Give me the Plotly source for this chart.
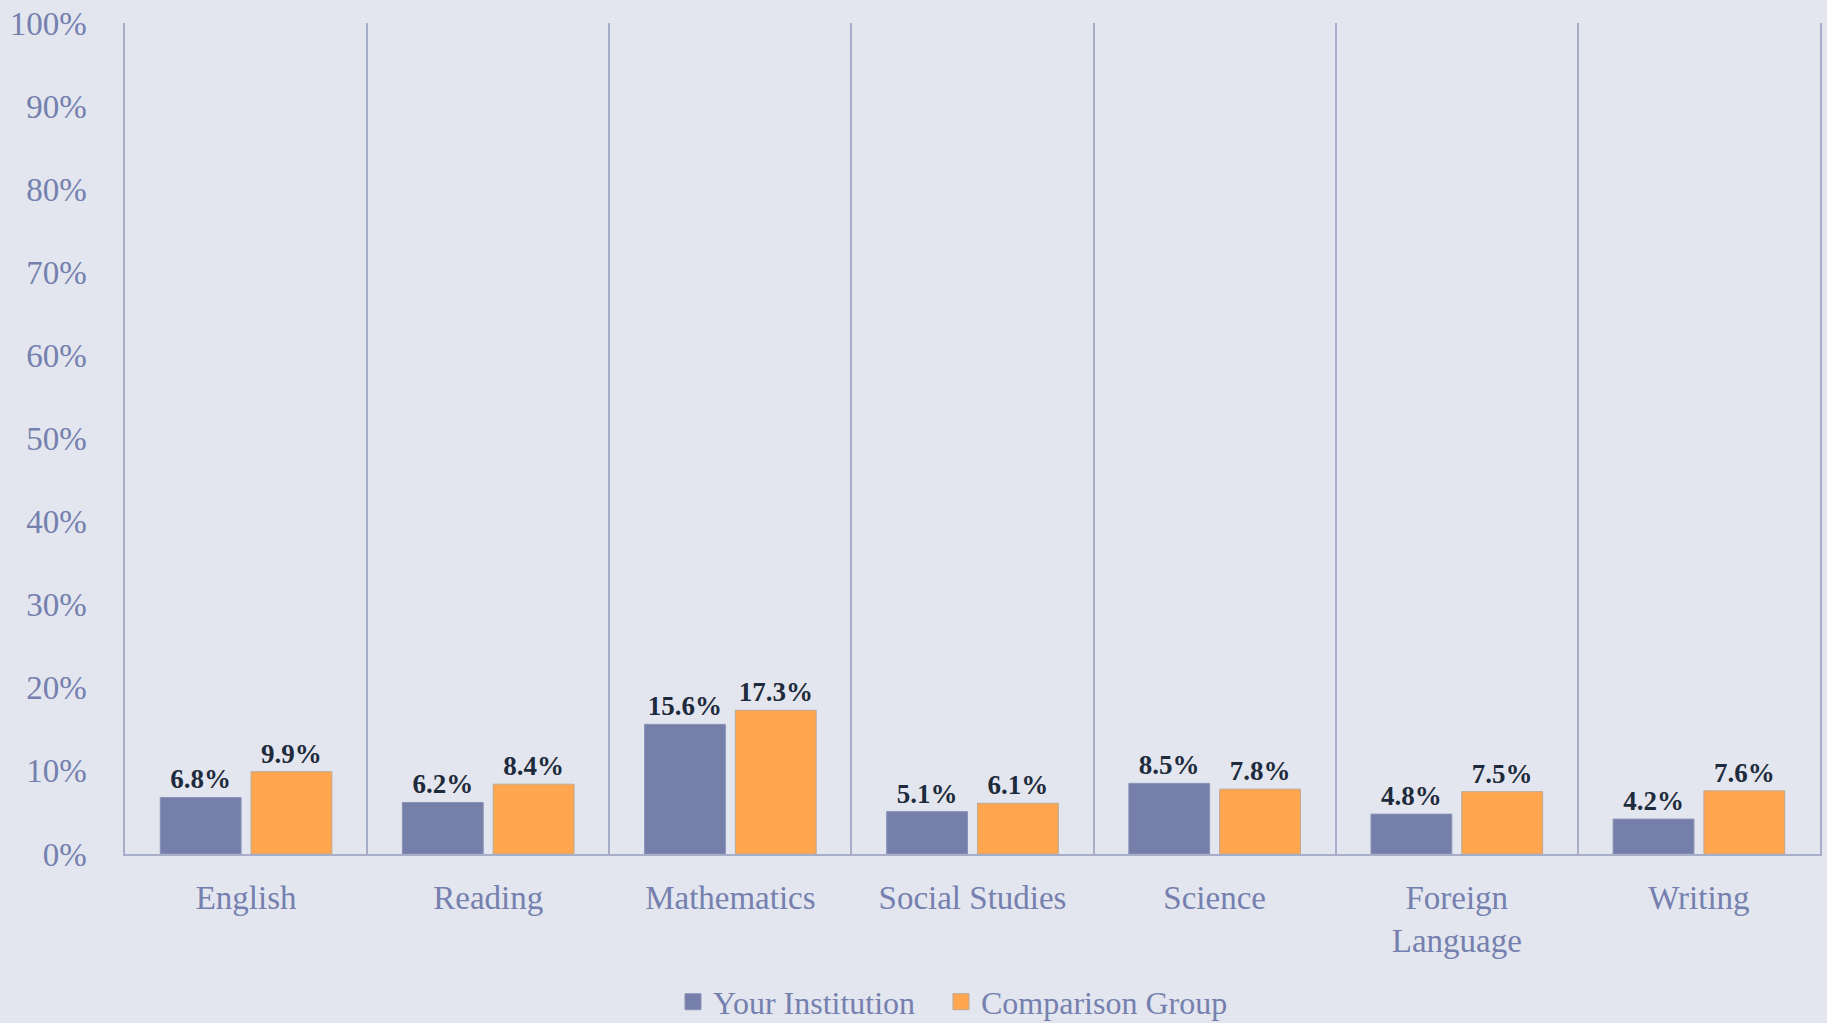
import plotly.graph_objects as go

categories = ["English", "Reading", "Mathematics", "Social Studies", "Science", "Foreign<br>Language", "Writing"]
your_institution = [6.8, 6.2, 15.6, 5.1, 8.5, 4.8, 4.2]
comparison_group = [9.9, 8.4, 17.3, 6.1, 7.8, 7.5, 7.6]
series_names = ["Your Institution", "Comparison Group"]
y_ticks = [0, 10, 20, 30, 40, 50, 60, 70, 80, 90, 100]
y_tick_labels = [f"{v}%" for v in y_ticks]

BG = "#E3E6EE"
GRID = "#A9AEC8"
TICK = "#7580AE"
LABEL = "#1E2B3C"
FONT = "Liberation Serif, Times New Roman, serif"
COLORS = ["#757FAA", "#FFA64F"]
EDGES = ["#8A93B8", "#BDA894"]

fig = go.Figure()
for name, vals, col, edge in zip(series_names, [your_institution, comparison_group], COLORS, EDGES):
    fig.add_trace(go.Bar(
        x=categories, y=vals, name=name, showlegend=False,
        marker=dict(color=col, line=dict(color=edge, width=1)),
        texttemplate="%{y:.1f}%", textposition="outside",
        textfont=dict(family=FONT, size=27, color=LABEL, weight="bold"),
        cliponaxis=False,
    ))

# legend entries (square swatches), one legend per series for exact spacing
for i, (name, col, edge) in enumerate(zip(series_names, COLORS, EDGES)):
    fig.add_trace(go.Scatter(
        x=[None], y=[None], mode="markers", name=name,
        marker=dict(symbol="square", size=16, color=col, line=dict(color=edge, width=1)),
        legend="legend" if i == 0 else "legend2", hoverinfo="skip",
    ))

legend_common = dict(orientation="h", yanchor="middle", y=-0.178, xanchor="left",
                     font=dict(family=FONT, size=32, color=TICK), itemwidth=30,
                     bgcolor="rgba(0,0,0,0)", borderwidth=0)

fig.update_layout(
    width=1827, height=1023,
    paper_bgcolor=BG, plot_bgcolor=BG,
    margin=dict(l=125, r=7, t=23, b=169, autoexpand=False),
    barmode="group", bargap=0.25, bargroupgap=0.11,
    font=dict(family=FONT, color=TICK),
    showlegend=True,
    legend=dict(x=0.3233, **legend_common),
    legend2=dict(x=0.4814, **legend_common),
    xaxis=dict(
        tickson="boundaries", showgrid=True, gridcolor=GRID, gridwidth=1.5,
        showline=True, linecolor=GRID, linewidth=1.5, ticks="",
        ticklabelstandoff=14, automargin=False,
        tickfont=dict(family=FONT, size=33, color=TICK),
        range=[-0.5, 6.5],
    ),
    yaxis=dict(
        range=[0, 100], tickmode="array", tickvals=y_ticks, ticktext=y_tick_labels,
        showgrid=False, zeroline=False, automargin=False,
        showline=True, mirror=True, linecolor=GRID, linewidth=1.5,
        ticks="", ticklabelstandoff=30,
        tickfont=dict(family=FONT, size=33, color=TICK),
    ),
)

fig.write_html("out.html", config={"displayModeBar": False},
               post_script="document.body.style.margin='0';document.body.style.background='#E3E6EE';")
